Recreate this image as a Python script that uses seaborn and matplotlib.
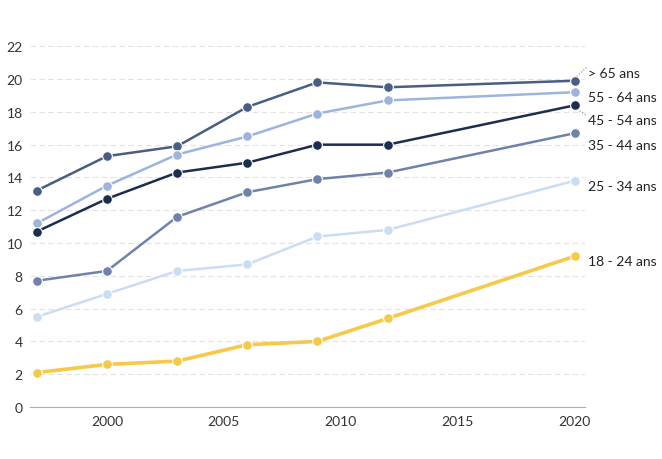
import pandas as pd
import seaborn as sns
import matplotlib.pyplot as plt

years = [1997, 2000, 2003, 2006, 2009, 2012, 2020]
groups = ["> 65 ans", "55 - 64 ans", "45 - 54 ans", "35 - 44 ans", "25 - 34 ans", "18 - 24 ans"]
v65 = [13.2, 15.3, 15.9, 18.3, 19.8, 19.5, 19.9]
v55 = [11.2, 13.5, 15.4, 16.5, 17.9, 18.7, 19.2]
v45 = [10.7, 12.7, 14.3, 14.9, 16.0, 16.0, 18.4]
v35 = [7.7, 8.3, 11.6, 13.1, 13.9, 14.3, 16.7]
v25 = [5.5, 6.9, 8.3, 8.7, 10.4, 10.8, 13.8]
v18 = [2.1, 2.6, 2.8, 3.8, 4.0, 5.4, 9.2]
colors = ["#4a5d82", "#9db4dd", "#1b2e4d", "#6f83aa", "#c9def2", "#f7c948"]

series = [v65, v55, v45, v35, v25, v18]
rows = []
for g, vals in zip(groups, series):
    for y, v in zip(years, vals):
        rows.append({"year": y, "value": v, "group": g})
df = pd.DataFrame(rows)

sns.set_style("white")
plt.rcParams["font.family"] = ["Lato", "DejaVu Sans"]

fig = plt.figure(figsize=(6.62, 4.6), dpi=100)
ax = fig.add_axes([0.045, 0.113, 0.839, 0.802])

for g, c in zip(groups, colors):
    sub = df[df.group == g]
    lw = 2.6 if g == "18 - 24 ans" else 1.8
    sns.lineplot(data=sub, x="year", y="value", color=c, lw=lw, marker="o",
                 markersize=7, markeredgecolor="white", markeredgewidth=0.8,
                 ax=ax, zorder=3)

ax.set_xlim(1996.7, 2020.45)
ax.set_ylim(0, 22.5)
ax.set_yticks(range(0, 23, 2))
ax.set_xticks([2000, 2005, 2010, 2015, 2020])
ax.set_xlabel("")
ax.set_ylabel("")
ax.yaxis.grid(True, color="#e3e3e3", linestyle=(0, (5, 3)), lw=0.8)
ax.xaxis.grid(False)
for s in ["top", "right", "left"]:
    ax.spines[s].set_visible(False)
ax.spines["bottom"].set_color("#b0b0b0")
ax.tick_params(axis="both", length=0, labelsize=10, colors="#333333")
ax.tick_params(axis="y", pad=5)
ax.tick_params(axis="x", pad=6)

label_y = [20.4, 18.9, 17.5, 16.0, 13.5, 8.9]
for g, vals, ly in zip(groups, series, label_y):
    ax.annotate(g, xy=(2020, vals[-1]), xytext=(2020.55, ly), fontsize=10,
                color="#222222", va="center", ha="left", annotation_clip=False)
ax.plot([2020, 2020.5], [v65[-1] + 0.15, 20.7], ls=":", color="#888888", lw=0.8, clip_on=False)
ax.plot([2020, 2020.5], [v45[-1] - 0.15, 17.8], ls=":", color="#888888", lw=0.8, clip_on=False)

fig.savefig("out.png", dpi=100)
